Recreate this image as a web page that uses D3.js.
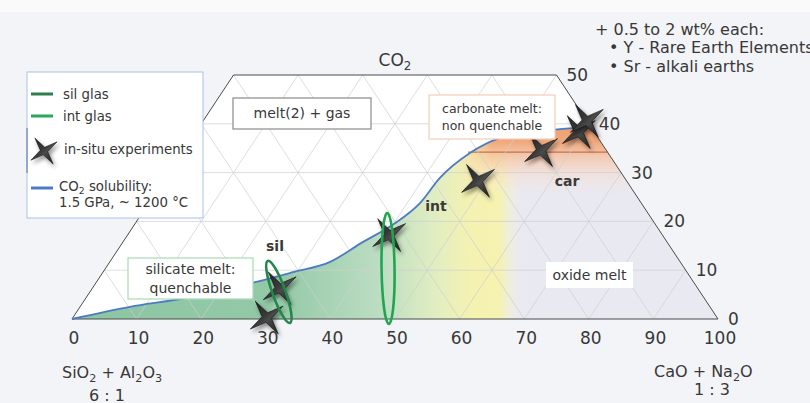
<!DOCTYPE html>
<html>
<head>
<meta charset="utf-8">
<script src="https://cdn.jsdelivr.net/npm/d3@7"></script>
<style>
  body { margin: 0; background: #f3f4f7; }
  svg { display: block; font-family: "DejaVu Sans", Verdana, sans-serif; }
</style>
</head>
<body>
<svg id="chart"></svg>
<script>
// ternary points are [CaO+Na2O, CO2] in wt%
const baseTicks = [0, 10, 20, 30, 40, 50, 60, 70, 80, 90, 100];
const co2Ticks = [0, 10, 20, 30, 40, 50];
const gridSteps = [10, 20, 30, 40, 50, 60, 70, 80, 90];
const solubility = [[0, 0], [7.75, 2.5], [14.7, 4.1], [24.2, 7.4], [29.4, 9.6], [34.1, 11.7],
  [37, 15.6], [40, 19.3], [42, 23.8], [42.5, 28.9], [44.6, 34], [47.7, 37.1],
  [52.2, 38.3], [56.1, 38.9], [60.7, 39.3]];
const experiments = [[30, 0.3], [29, 6.3], [40.5, 17.2], [48.7, 28.3], [55.3, 34.6], [59.3, 38.3], [59.4, 40.6]];
const silGlas = [[27.8, 11.9], [30.7, -0.8]];   // ellipse end points
const intGlas = [[38.2, 21.7], [49.3, -1.0]];
const carbonateLimit = [[44.2, 34.2], [65.8, 34.2]];
const infoLines = ["+ 0.5 to 2 wt% each:", "\u2022 Y - Rare Earth Elements", "\u2022 Sr - alkali earths"];

const width = 810, height = 403;
const svg = d3.select("#chart").attr("width", width).attr("height", height);

const x = d3.scaleLinear().domain([0, 100]).range([72, 718]);
const y = d3.scaleLinear().domain([0, 100]).range([319, -169]);
const proj = ([k, c]) => [x(k + c / 2), y(c)];
const textColor = "#383838";

svg.append("rect").attr("width", width).attr("height", height).attr("fill", "#f3f4f7");
svg.append("rect").attr("width", width).attr("height", 12).attr("fill", "#fafafa");

const defs = svg.append("defs");

// fill colours left to right
const fillGrad = defs.append("linearGradient").attr("id", "fillGrad")
  .attr("gradientUnits", "userSpaceOnUse").attr("x1", x(0)).attr("x2", x(100)).attr("y1", 0).attr("y2", 0);
[[0, "#8dc5a3"], [0.32, "#93c9a7"], [0.48, "#bddec2"], [0.56, "#e0edc2"], [0.615, "#f4f2b2"],
 [0.66, "#f6f2b0"], [0.68, "#eeede2"], [0.697, "#e9e9f1"], [1, "#e9e9f1"]]
  .forEach(([o, c]) => fillGrad.append("stop").attr("offset", o).attr("stop-color", c));

const orangeGrad = defs.append("linearGradient").attr("id", "orangeGrad")
  .attr("gradientUnits", "userSpaceOnUse").attr("x1", 0).attr("x2", 0).attr("y1", 120).attr("y2", 195);
[[0, "#ee9a6c", 1], [0.3, "#f0a678", 0.95], [0.45, "#f4bc98", 0.82], [0.7, "#f8d6c2", 0.5], [1, "#fae6dc", 0]]
  .forEach(([o, c, a]) => orangeGrad.append("stop").attr("offset", o).attr("stop-color", c).attr("stop-opacity", a));

const fadeGrad = defs.append("linearGradient").attr("id", "fadeGrad")
  .attr("gradientUnits", "userSpaceOnUse").attr("x1", 455).attr("x2", 492).attr("y1", 0).attr("y2", 0);
fadeGrad.append("stop").attr("offset", 0).attr("stop-color", "#fff").attr("stop-opacity", 0);
fadeGrad.append("stop").attr("offset", 1).attr("stop-color", "#fff").attr("stop-opacity", 1);
defs.append("mask").attr("id", "fadeMask")
  .append("rect").attr("x", 0).attr("y", 0).attr("width", width).attr("height", height).attr("fill", "url(#fadeGrad)");

const starGrad = defs.append("linearGradient").attr("id", "starGrad")
  .attr("x1", 0).attr("y1", 0).attr("x2", 1).attr("y2", 1);
[[0, "#1e1e1e"], [0.45, "#3a3a3a"], [0.55, "#4a4a4a"], [1, "#151515"]]
  .forEach(([o, c]) => starGrad.append("stop").attr("offset", o).attr("stop-color", c));

const shadow = defs.append("filter").attr("id", "shadow").attr("x", "-50%").attr("y", "-50%")
  .attr("width", "200%").attr("height", "200%");
shadow.append("feDropShadow").attr("dx", 2).attr("dy", 3).attr("stdDeviation", 2)
  .attr("flood-color", "#000").attr("flood-opacity", 0.45);

// triangle (cut at 50 % CO2)
const corners = [[0, 0], [100, 0], [50, 50], [0, 50]];
const outline = d3.line()(corners.map(proj)) + "Z";
svg.append("path").attr("d", outline).attr("fill", "#fff");

// melt area under the solubility curve
const curveLine = d3.line().curve(d3.curveMonotoneX);
const curvePath = curveLine(solubility.map(proj));
const areaPath = curvePath + "L" + proj([100, 0]).join(",") + "Z";
defs.append("clipPath").attr("id", "meltClip").append("path").attr("d", areaPath);

svg.append("path").attr("d", areaPath).attr("fill", "url(#fillGrad)");
svg.append("g").attr("clip-path", "url(#meltClip)")
  .append("rect").attr("x", 440).attr("y", 100).attr("width", 290).attr("height", 110)
  .attr("fill", "url(#orangeGrad)").attr("mask", "url(#fadeMask)");

svg.append("path").attr("d", d3.line()(carbonateLimit.map(proj)))
  .attr("stroke", "#b4553a").attr("stroke-opacity", 0.75).attr("stroke-width", 1.2).attr("fill", "none");

// grid
const gridLines = [];
co2Ticks.filter(c => c > 0 && c < 50).forEach(c => gridLines.push([[0, c], [100 - c, c]]));
gridSteps.forEach(k => { const cm = Math.min(50, 100 - k); gridLines.push([[k, 0], [k, cm]]); });
gridSteps.forEach(s => { const cm = Math.min(50, s); gridLines.push([[s, 0], [s - cm, cm]]); });
svg.append("g").attr("stroke", "#cfcfd2").attr("stroke-opacity", 0.7).attr("stroke-width", 1)
  .selectAll("path").data(gridLines).join("path")
  .attr("d", d => d3.line()(d.map(proj)));

svg.append("path").attr("d", outline).attr("fill", "none").attr("stroke", "#4a4a4a").attr("stroke-width", 1);

svg.append("path").attr("d", curvePath).attr("fill", "none")
  .attr("stroke", "#4b7cc3").attr("stroke-width", 1.8);

// stars
function starPath(R, r) {
  const pts = d3.range(8).map(i => {
    const a = (-35 + i * 45) * Math.PI / 180;
    const rad = i % 2 === 0 ? R : r;
    return [rad * Math.cos(a), rad * Math.sin(a)];
  });
  return d3.line()(pts) + "Z";
}
svg.append("g").selectAll("path").data(experiments).join("path")
  .attr("d", starPath(20, 4.8))
  .attr("transform", d => `translate(${proj(d)})`)
  .attr("fill", "url(#starGrad)").attr("stroke", "#0e0e0e").attr("stroke-width", 0.6)
  .attr("filter", "url(#shadow)");

// glass ellipses
function drawGlass(ends, color) {
  const [a, b] = ends.map(proj);
  const cx = (a[0] + b[0]) / 2, cy = (a[1] + b[1]) / 2;
  const len = Math.hypot(b[0] - a[0], b[1] - a[1]) / 2;
  const ang = Math.atan2(b[0] - a[0], a[1] - b[1]) * 180 / Math.PI;
  svg.append("ellipse").attr("cx", 0).attr("cy", 0).attr("rx", 6.5).attr("ry", len)
    .attr("transform", `translate(${cx},${cy}) rotate(${-ang})`)
    .attr("fill", "none").attr("stroke", color).attr("stroke-width", 2.6);
}
drawGlass(silGlas, "#23864a");
drawGlass(intGlas, "#1fa650");

// text helper with subscripts
function subText(g, parts, size) {
  const t = g.append("text").attr("font-size", size).attr("fill", textColor);
  parts.forEach(([s, sub], i) => {
    const ts = t.append("tspan").text(s);
    if (sub) ts.attr("font-size", size * 0.7).attr("dy", size * 0.22);
    else if (i > 0 && parts[i - 1][1]) ts.attr("dy", -size * 0.22);
  });
  return t;
}

// region boxes
function labelBox(x0, y0, w, h, stroke, lines, size) {
  svg.append("rect").attr("x", x0).attr("y", y0).attr("width", w).attr("height", h)
    .attr("fill", "#fff").attr("stroke", stroke).attr("stroke-width", 1.2);
  const lh = lines.length > 1 ? size * 1.3 : 0;
  lines.forEach((l, i) => svg.append("text")
    .attr("x", x0 + w / 2).attr("y", y0 + h / 2 + (i - (lines.length - 1) / 2) * lh)
    .attr("dy", "0.35em").attr("text-anchor", "middle")
    .attr("font-size", size).attr("fill", textColor).text(l));
}
labelBox(233, 98, 138, 31, "#8a8a8a", ["melt(2) + gas"], 14);
labelBox(429, 95, 126, 44, "#f2cdb8", ["carbonate melt:", "non quenchable"], 12.5);
labelBox(128, 258, 125, 41, "#a6dbb6", ["silicate melt:", "quenchable"], 14);
labelBox(546, 262, 87, 26, "none", ["oxide melt"], 14);

[["sil", 275, 246], ["int", 436, 206], ["car", 567, 181]].forEach(([t, tx, ty]) =>
  svg.append("text").attr("x", tx).attr("y", ty).attr("dy", "0.35em").attr("text-anchor", "middle")
    .attr("font-size", 14).attr("font-weight", "bold").attr("fill", "#3a3a3a").text(t));

// axis labels
svg.append("g").selectAll("text").data(baseTicks).join("text")
  .attr("x", d => x(d) + 2).attr("y", 338).attr("dy", "0.35em").attr("text-anchor", "middle")
  .attr("font-size", 17).attr("fill", textColor).text(d => d);
svg.append("g").selectAll("text").data(co2Ticks).join("text")
  .attr("x", d => proj([100 - d, d])[0] + 10).attr("y", d => y(d)).attr("dy", "0.35em")
  .attr("font-size", 17).attr("fill", textColor).text(d => d);

subText(svg, [["CO", false], ["2", true]], 17).attr("x", 395).attr("y", 66).attr("text-anchor", "middle");
subText(svg, [["SiO", false], ["2", true], [" + Al", false], ["2", true], ["O", false], ["3", true]], 16)
  .attr("x", 62).attr("y", 378);
svg.append("text").attr("x", 107).attr("y", 401).attr("text-anchor", "middle")
  .attr("font-size", 16).attr("fill", textColor).text("6 : 1");
subText(svg, [["CaO + Na", false], ["2", true], ["O", false]], 16).attr("x", 654).attr("y", 377);
svg.append("text").attr("x", 712).attr("y", 395).attr("text-anchor", "middle")
  .attr("font-size", 16).attr("fill", textColor).text("1 : 3");

svg.append("g").selectAll("text").data(infoLines).join("text")
  .attr("x", (d, i) => i === 0 ? 595 : 609).attr("y", (d, i) => 29 + i * 18.5).attr("dy", "0.35em")
  .attr("font-size", 16).attr("fill", textColor).text(d => d);

// legend
const legend = svg.append("g");
legend.append("rect").attr("x", 27).attr("y", 72).attr("width", 176).attr("height", 146)
  .attr("fill", "#fff").attr("stroke", "#a9c2e4").attr("stroke-width", 1);
legend.append("line").attr("x1", 27).attr("x2", 27).attr("y1", 128).attr("y2", 173)
  .attr("stroke", "#8eaad2").attr("stroke-width", 2);
[[94, "#2e7d4f", "sil glas"], [116, "#27a85a", "int glas"]].forEach(([ly, c, t]) => {
  legend.append("line").attr("x1", 31).attr("x2", 53).attr("y1", ly).attr("y2", ly)
    .attr("stroke", c).attr("stroke-width", 3);
  legend.append("text").attr("x", 63).attr("y", ly).attr("dy", "0.35em")
    .attr("font-size", 13.3).attr("fill", textColor).text(t);
});
legend.append("path").attr("d", starPath(16, 3.8)).attr("transform", "translate(44,151)")
  .attr("fill", "url(#starGrad)").attr("stroke", "#0e0e0e").attr("stroke-width", 0.5).attr("filter", "url(#shadow)");
legend.append("text").attr("x", 64).attr("y", 149).attr("dy", "0.35em")
  .attr("font-size", 13.3).attr("fill", textColor).text("in-situ experiments");
legend.append("line").attr("x1", 31).attr("x2", 53).attr("y1", 188).attr("y2", 188)
  .attr("stroke", "#4b7cc3").attr("stroke-width", 3);
subText(legend, [["CO", false], ["2", true], [" solubility:", false]], 13.3).attr("x", 59).attr("y", 191);
legend.append("text").attr("x", 59).attr("y", 207).attr("font-size", 13.3).attr("fill", textColor)
  .text("1.5 GPa, ~ 1200 \u00b0C");
</script>
</body>
</html>
